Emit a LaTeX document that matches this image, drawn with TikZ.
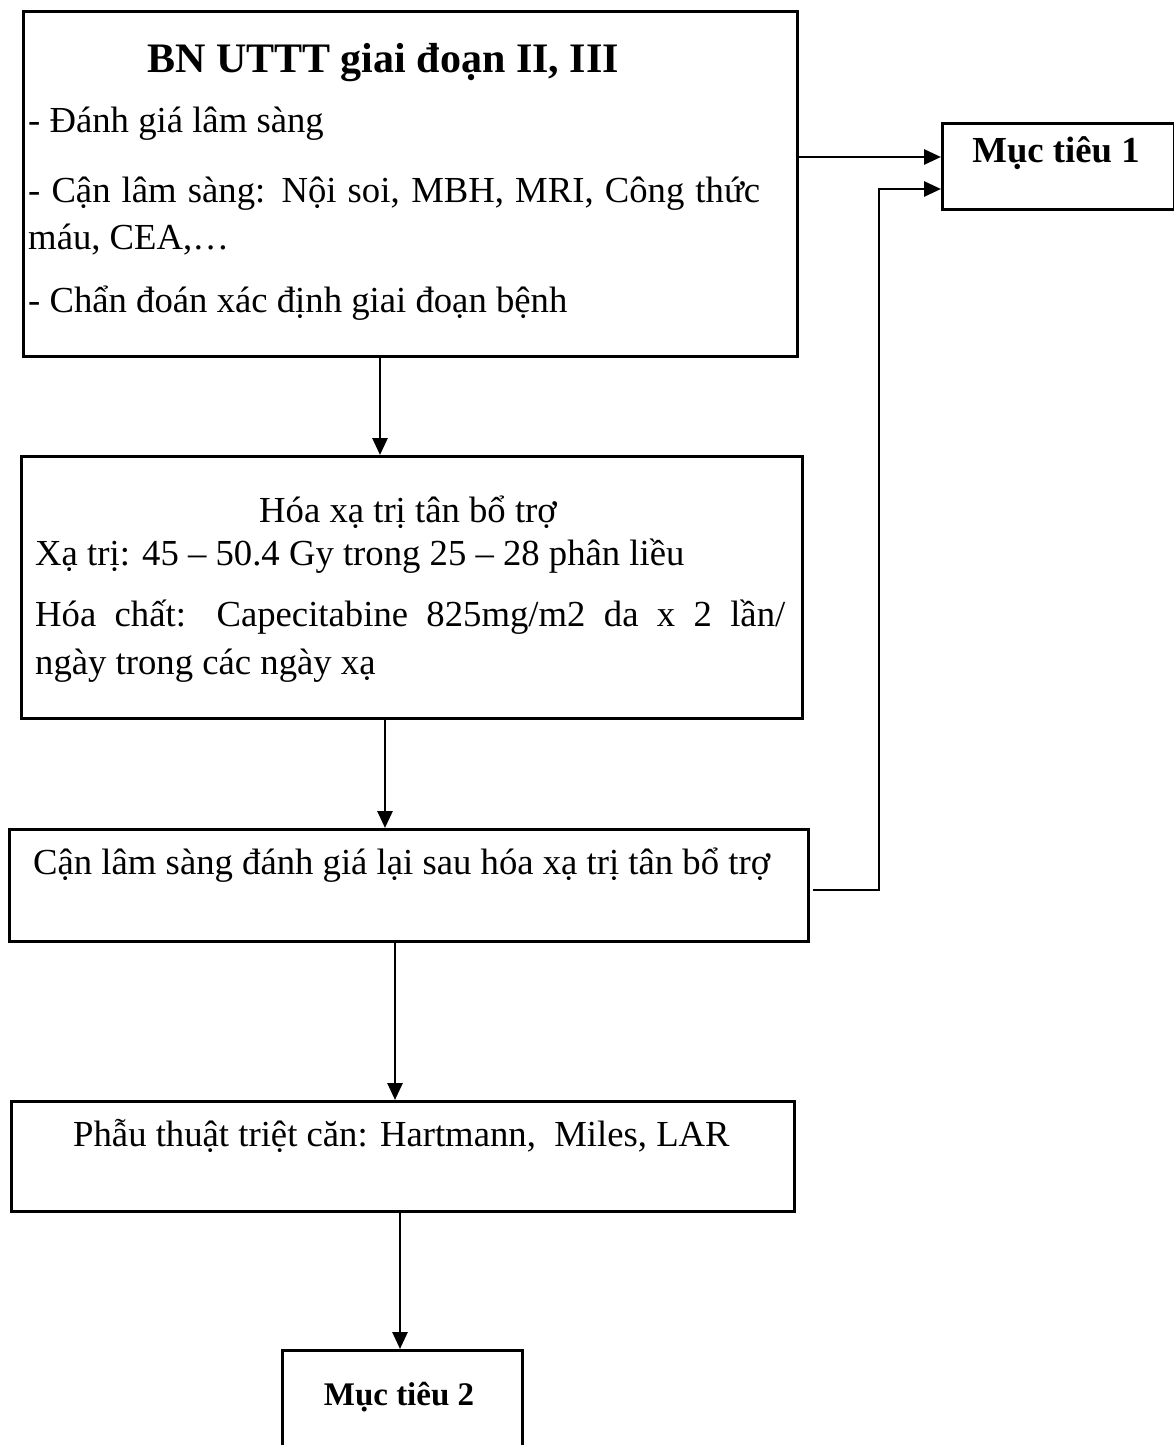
\documentclass[tikz,border=0pt]{standalone}
\usepackage{fontspec}
\setmainfont{Liberation Serif}
\usetikzlibrary{arrows.meta,calc}
\begin{document}
\begin{tikzpicture}[x=1pt,y=-1pt,
  box/.style={draw=black, line width=3pt, inner sep=0pt, anchor=north west},
  txt/.style={inner sep=0pt, font=\fontsize{36.7}{47}\selectfont},
  btxt/.style={inner sep=0pt, font=\fontsize{36.7}{47}\selectfont\bfseries},
  arr/.style={line width=2.8pt, -{Triangle[length=17pt,width=15pt]}}]
\clip (0,0) rectangle (1174,1445);
\path[use as bounding box] (0,0) rectangle (1174,1445);

% boxes
\node[box, minimum width=774pt, minimum height=345pt] (b1) at (22,10) {};
\node[box, minimum width=781pt, minimum height=262pt] (b2) at (20,455) {};
\node[box, minimum width=799pt, minimum height=112pt] (b3) at (8,828) {};
\node[box, minimum width=783pt, minimum height=110pt] (b4) at (10,1100) {};
\node[box, minimum width=232pt, minimum height=86pt] (m1) at (941,122) {};
\node[box, minimum width=240pt, minimum height=130pt] (m2) at (281,1349) {};

% texts box 1
\node[inner sep=0pt, font=\fontsize{42}{47}\selectfont\bfseries, anchor=base] (t1a) at (383,72) {BN UTTT giai đoạn II, III};
\node[txt, anchor=base west] (t1b) at (28,132) {- Đánh giá lâm sàng};
\node[txt, anchor=base west] (t1c) at (28,202) {\makebox[732pt][s]{- Cận lâm sàng: Nội soi, MBH, MRI, Công thức}};
\node[txt, anchor=base west] (t1d) at (28,249) {máu, CEA,…};
\node[txt, anchor=base west] (t1e) at (28,312) {- Chẩn đoán xác định giai đoạn bệnh};

% texts box 2
\node[txt, anchor=base] (t2a) at (408,522) {Hóa xạ trị tân bổ trợ};
\node[txt, anchor=base west] (t2b) at (35,565) {Xạ trị: 45 – 50.4 Gy trong 25 – 28 phân liều};
\node[txt, anchor=base west] (t2c) at (35,626) {\makebox[750pt][s]{Hóa chất: Capecitabine 825mg/m2 da x 2 lần/}};
\node[txt, anchor=base west] (t2d) at (35,674) {ngày trong các ngày xạ};

% texts box 3, 4
\node[txt, anchor=base west] (t3) at (33,874) {Cận lâm sàng đánh giá lại sau hóa xạ trị tân bổ trợ};
\node[txt, anchor=base west] (t4) at (73,1146) {Phẫu thuật triệt căn: Hartmann,\ \ Miles,\ LAR};

% goals
\node[btxt, anchor=base] (g1) at (1056,162) {Mục tiêu 1};
\node[inner sep=0pt, font=\fontsize{33}{40}\selectfont\bfseries, anchor=base] (g2) at (399,1405) {Mục tiêu 2};

% connector helpers
\coordinate (c1) at (380,0);
\coordinate (c2) at (385,0);
\coordinate (c3) at (395,0);
\coordinate (c4) at (400,0);
\coordinate (r1) at (0,157);
\coordinate (r2) at (0,189);
\coordinate (s3) at (813,890);
\coordinate (v) at (879,0);

\draw[arr] (b1.south -| c1) -- (b2.north -| c1);
\draw[arr] (b2.south -| c2) -- (b3.north -| c2);
\draw[arr] (b3.south -| c3) -- (b4.north -| c3);
\draw[arr] (b4.south -| c4) -- (m2.north -| c4);
\draw[arr] (b1.east |- r1) -- (m1.west |- r1);
\draw[arr] (s3) -| (v |- r2) -- (m1.west |- r2);
\end{tikzpicture}
\end{document}
